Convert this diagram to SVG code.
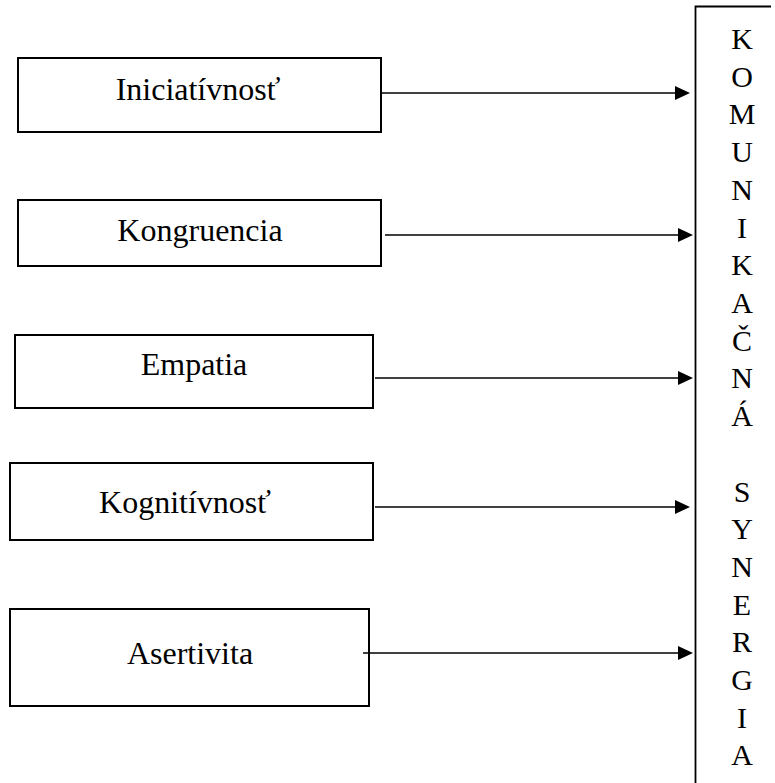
<svg xmlns="http://www.w3.org/2000/svg" width="775" height="783" viewBox="0 0 775 783">
  <style>
    .box { fill: #ffffff; stroke: #000000; stroke-width: 2; }
    .label { font-family: "Liberation Serif", "Times New Roman", serif; font-size: 32px; fill: #000000; text-anchor: middle; }
    .col { font-family: "Liberation Serif", "Times New Roman", serif; font-size: 30px; fill: #000000; text-anchor: middle; }
    .frame { stroke: #000000; stroke-width: 1.8; fill: none; }
    .link { stroke: #000000; stroke-width: 1.7; fill: none; }
    .head { fill: #000000; }
  </style>
  <rect width="775" height="783" fill="#ffffff"/>

  <g id="node-iniciativnost">
    <rect class="box" x="18" y="58" width="363" height="74"/>
    <text class="label" x="198" y="100">Iniciatívnosť</text>
  </g>
  <g id="node-kongruencia">
    <rect class="box" x="18" y="200" width="363" height="66"/>
    <text class="label" x="200" y="241">Kongruencia</text>
  </g>
  <g id="node-empatia">
    <rect class="box" x="15" y="335" width="358" height="73"/>
    <text class="label" x="194" y="375">Empatia</text>
  </g>
  <g id="node-kognitivnost">
    <rect class="box" x="10" y="463" width="363" height="77"/>
    <text class="label" x="185" y="513">Kognitívnosť</text>
  </g>
  <g id="node-asertivita">
    <rect class="box" x="10" y="609" width="359" height="97"/>
    <text class="label" x="190" y="664">Asertivita</text>
  </g>

  <!-- tall target frame, open on the right and bottom -->
  <g id="node-synergia">
    <path class="frame" d="M771,6.5 H695.5 V783"/>
    <text class="col" x="742" y="49">K</text>
    <text class="col" x="742" y="87">O</text>
    <text class="col" x="742" y="124">M</text>
    <text class="col" x="742" y="162">U</text>
    <text class="col" x="742" y="200">N</text>
    <text class="col" x="742" y="238">I</text>
    <text class="col" x="742" y="275">K</text>
    <text class="col" x="742" y="313">A</text>
    <text class="col" x="742" y="351">Č</text>
    <text class="col" x="742" y="388">N</text>
    <text class="col" x="742" y="426">Á</text>
    <text class="col" x="742" y="502">S</text>
    <text class="col" x="742" y="539">Y</text>
    <text class="col" x="742" y="577">N</text>
    <text class="col" x="742" y="615">E</text>
    <text class="col" x="742" y="652">R</text>
    <text class="col" x="742" y="690">G</text>
    <text class="col" x="742" y="728">I</text>
    <text class="col" x="742" y="765">A</text>
  </g>

  <g id="connectors">
    <line class="link" x1="382" y1="93" x2="676" y2="93"/>
    <polygon class="head" points="675,86 690,93 675,100"/>
    <line class="link" x1="385" y1="235" x2="679" y2="235"/>
    <polygon class="head" points="678,228 693,235 678,242"/>
    <line class="link" x1="375" y1="378" x2="679" y2="378"/>
    <polygon class="head" points="678,371 693,378 678,385"/>
    <line class="link" x1="375" y1="507" x2="676" y2="507"/>
    <polygon class="head" points="675,500 690,507 675,514"/>
    <line class="link" x1="363" y1="653" x2="679" y2="653"/>
    <polygon class="head" points="678,646 693,653 678,660"/>
  </g>
</svg>
